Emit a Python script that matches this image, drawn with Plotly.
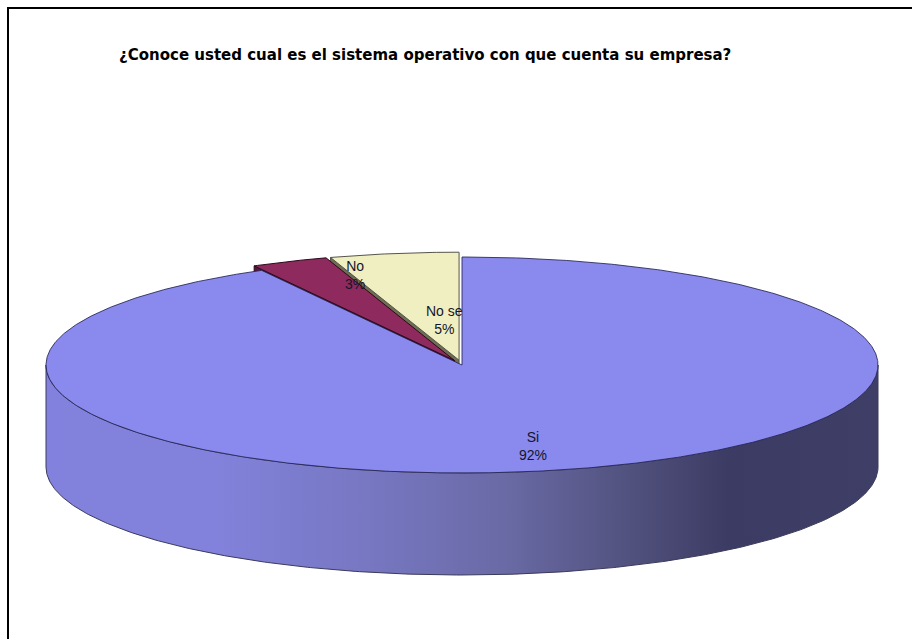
import numpy as np
import plotly.graph_objects as go

# ---- data ----
labels = ["Si", "No", "No se"]
values = [92, 3, 5]
title_text = "¿Conoce usted cual es el sistema operativo con que cuenta su empresa?"

# ---- style / geometry ----
W, H = 912, 639
CX, CY = 462, 365
RX, RY = 416, 108
DEPTH = 102
EXPLODE = [0.0, 0.045, 0.045]
top_colors = ["#8A8AEE", "#8E2A5E", "#EFEFC2"]
side_colors = ["#7a7ad8", "#5a1638", "#6e6e50"]
edge_colors = ["rgba(35,35,85,0.85)", "#2a0a1a", "#55554a"]
label_pos = [(0.685, 0.77), (0.6, 0.86), (0.23, 0.38)]
label_font = "Liberation Sans Narrow, Arial Narrow, Liberation Sans, Arial"

total = float(sum(values))
ends = np.cumsum(values) / total * 360.0
starts = np.concatenate([[0.0], ends[:-1]])
mids = (starts + ends) / 2.0


def shift(i):
    a = np.radians(mids[i])
    return EXPLODE[i] * RX * np.sin(a), -EXPLODE[i] * RY * np.cos(a)


def arc(a0, a1, dx=0.0, dy=0.0, dz=0.0, n=None):
    if n is None:
        n = max(8, int(abs(a1 - a0) * 2))
    a = np.radians(np.linspace(a0, a1, n))
    return CX + dx + RX * np.sin(a), CY + dy - RY * np.cos(a) + dz


fig = go.Figure()

# side faces of exploded small slices (radial face at start angle), back to front
for i in [2, 1]:
    dx, dy = shift(i)
    a = np.radians(starts[i])
    ox, oy = CX + dx + RX * np.sin(a), CY + dy - RY * np.cos(a)
    tx, ty = CX + dx, CY + dy
    fig.add_trace(go.Scatter(
        x=[tx, ox, ox, tx, tx], y=[ty, oy, oy + DEPTH, ty + DEPTH, ty],
        mode="lines", fill="toself", fillcolor=side_colors[i],
        line=dict(color=edge_colors[i], width=1), hoverinfo="skip"))

# front side wall (visible from 90 to 270 degrees)
for i in range(len(values)):
    a0 = max(starts[i], 90.0)
    a1 = min(ends[i], 270.0)
    if a1 <= a0:
        continue
    dx, dy = shift(i)
    tx, ty = arc(a0, a1, dx, dy)
    bx, by = arc(a1, a0, dx, dy, DEPTH)
    xs = np.concatenate([tx, bx, tx[:1]])
    ys = np.concatenate([ty, by, ty[:1]])
    fig.add_trace(go.Scatter(
        x=xs, y=ys, mode="lines", fill="toself",
        fillgradient=dict(type="horizontal", colorscale=[
            [0.0, "#8282DE"], [0.2, "#8282DC"], [0.4, "#7676C0"],
            [0.55, "#6A6AA6"], [0.7, "#52527F"], [0.82, "#3B3B63"],
            [1.0, "#3E3E66"]]),
        line=dict(color="#3a3a5a", width=1), hoverinfo="skip"))

# top faces
for i in [0, 1, 2]:
    dx, dy = shift(i)
    ax, ay = arc(starts[i], ends[i], dx, dy)
    xs = np.concatenate([[CX + dx], ax, [CX + dx]])
    ys = np.concatenate([[CY + dy], ay, [CY + dy]])
    fig.add_trace(go.Scatter(
        x=xs, y=ys, mode="lines", fill="toself", fillcolor=top_colors[i],
        line=dict(color=edge_colors[i], width=1), hoverinfo="skip"))

# data labels
for i in range(len(values)):
    dx, dy = shift(i)
    a = np.radians(mids[i])
    lx = CX + dx + label_pos[i][0] * RX * np.sin(a)
    ly = CY + dy - label_pos[i][1] * RY * np.cos(a)
    pct = f"{values[i] / total * 100:.0f}%"
    fig.add_annotation(x=lx, y=ly, xref="x", yref="y",
                       text=f"{labels[i]}<br>{pct}", showarrow=False,
                       font=dict(family=label_font, size=14, color="#15152a"),
                       align="center")

# title
fig.add_annotation(x=117, y=55, xref="x", yref="y", xanchor="left",
                   yanchor="middle", text=f"<b>{title_text}</b>",
                   showarrow=False,
                   font=dict(family="DejaVu Sans, Liberation Sans, Arial",
                             size=15, color="#000000"))

# chart frame
fig.add_shape(type="rect", xref="x", yref="y", x0=8, y0=8, x1=W + 4,
              y1=H + 4, line=dict(color="#000000", width=2),
              fillcolor="rgba(0,0,0,0)", layer="below")

fig.update_layout(
    width=W, height=H, margin=dict(l=0, r=0, t=0, b=0),
    paper_bgcolor="white", plot_bgcolor="white",
    showlegend=False, hovermode=False,
    xaxis=dict(range=[0, W], visible=False, fixedrange=True),
    yaxis=dict(range=[H, 0], visible=False, fixedrange=True),
)

fig.write_html("out.html", config={"displayModeBar": False},
               post_script="document.body.style.margin='0px';"
                           "document.body.style.overflow='hidden';")
